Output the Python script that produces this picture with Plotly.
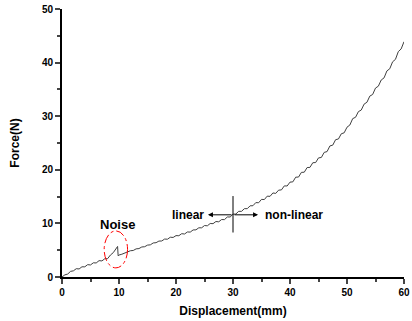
import plotly.graph_objects as go

disp = [0, 0.5, 1, 1.5, 2, 2.5, 3, 3.5, 4, 4.5, 5, 5.5, 6, 6.5, 7, 7.5, 8,
        8.5, 9, 9.5, 9.75, 9.85, 10, 10.5, 11, 11.5, 12, 12.5, 13, 13.5, 14, 14.5,
        15, 15.5, 16, 16.5, 17, 17.5, 18, 18.5, 19, 19.5, 20, 20.5, 21, 21.5,
        22, 22.5, 23, 23.5, 24, 24.5, 25, 25.5, 26, 26.5, 27, 27.5, 28, 28.5,
        29, 29.5, 30, 30.5, 31, 31.5, 32, 32.5, 33, 33.5, 34, 34.5, 35, 35.5,
        36, 36.5, 37, 37.5, 38, 38.5, 39, 39.5, 40, 40.5, 41, 41.5, 42, 42.5,
        43, 43.5, 44, 44.5, 45, 45.5, 46, 46.5, 47, 47.5, 48, 48.5, 49, 49.5,
        50, 50.5, 51, 51.5, 52, 52.5, 53, 53.5, 54, 54.5, 55, 55.5, 56, 56.5,
        57, 57.5, 58, 58.5, 59, 59.5, 60]
force = [0.00, 0.40, 0.55, 1.05, 1.15, 1.55, 1.50, 1.90, 1.90, 2.30, 2.25, 2.65, 2.62, 3.05, 3.00, 3.40, 3.42,
         4.10, 4.55, 5.25, 5.70, 3.95, 4.10, 4.25, 4.50, 4.60, 4.90, 4.95, 5.25, 5.30, 5.60, 5.65,
         5.95, 6.00, 6.35, 6.40, 6.70, 6.72, 7.08, 7.05, 7.42, 7.38, 7.72, 7.70, 8.08, 8.02,
         8.40, 8.38, 8.78, 8.80, 9.18, 9.18, 9.60, 9.55, 9.98, 9.95, 10.35, 10.30, 10.72, 10.70,
         11.20, 11.20, 11.72, 11.75, 12.25, 12.25, 12.75, 12.75, 13.28, 13.30, 13.88, 13.85, 14.48, 14.45,
         15.08, 15.05, 15.68, 15.60, 16.20, 16.25, 17.00, 16.98, 17.70, 17.75, 18.62, 18.65, 19.52, 19.55,
         20.42, 20.45, 21.32, 21.35, 22.22, 22.30, 23.25, 23.40, 24.45, 24.60, 25.62, 25.75, 26.72, 26.90,
         27.95, 28.35, 29.55, 29.80, 30.85, 31.15, 32.25, 32.60, 33.75, 34.05, 35.25, 35.60, 36.75, 37.15,
         38.45, 38.85, 40.15, 40.60, 42.05, 42.55, 43.90]

x_ticks = [0, 10, 20, 30, 40, 50, 60]
y_ticks = [0, 10, 20, 30, 40, 50]

noise_box = dict(x0=7.4, x1=11.5, y0=1.7, y1=8.6)
split_x = 30
split_y = 11.6

bold = dict(family="Liberation Sans, Arial, sans-serif", color="black", weight="bold")

fig = go.Figure()
fig.add_trace(go.Scatter(x=disp, y=force, mode="lines",
                         line=dict(color="#404040", width=1), showlegend=False))

fig.add_shape(type="circle", xref="x", yref="y", **noise_box,
              line=dict(color="red", width=1, dash="dashdot"))
fig.add_shape(type="line", xref="x", yref="y", x0=split_x, x1=split_x, y0=8.3, y1=15.1,
              line=dict(color="black", width=1))

# arrows
fig.add_annotation(x=25.6, y=split_y, ax=split_x, ay=split_y, xref="x", yref="y",
                   axref="x", ayref="y", text="", showarrow=True, arrowhead=2,
                   arrowsize=1, arrowwidth=1, arrowcolor="black")
fig.add_annotation(x=34.4, y=split_y, ax=split_x, ay=split_y, xref="x", yref="y",
                   axref="x", ayref="y", text="", showarrow=True, arrowhead=2,
                   arrowsize=1, arrowwidth=1, arrowcolor="black")

fig.add_annotation(x=25.3, y=split_y, xref="x", yref="y", text="linear", showarrow=False,
                   xanchor="right", font=dict(size=12, **bold))
fig.add_annotation(x=35.3, y=split_y, xref="x", yref="y", text="non-linear", showarrow=False,
                   xanchor="left", font=dict(size=12, **bold))
fig.add_annotation(x=9.65, y=9.8, xref="x", yref="y", text="Noise", showarrow=False,
                   font=dict(size=13, **bold))

fig.update_layout(
    width=412, height=321,
    margin=dict(l=62, r=8, t=9, b=44),
    paper_bgcolor="white", plot_bgcolor="white",
    font=dict(size=10, **bold),
)
fig.update_xaxes(range=[0, 60], tickvals=x_ticks, ticks="outside", ticklen=5, tickwidth=1.5,
                 showline=True, linecolor="black", linewidth=2, showgrid=False, zeroline=False,
                 automargin=False, tickfont=dict(size=10, **bold),
                 minor=dict(tickvals=[5, 15, 25, 35, 45, 55], ticks="outside", ticklen=3, tickwidth=1.5, showgrid=False),
                 title=dict(text="Displacement(mm)", font=dict(size=12, **bold), standoff=10))
fig.update_yaxes(range=[0, 50], tickvals=y_ticks, ticks="outside", ticklen=5, tickwidth=1.5,
                 showline=True, linecolor="black", linewidth=2, showgrid=False, zeroline=False,
                 automargin=False, tickfont=dict(size=10, **bold),
                 minor=dict(tickvals=[5, 15, 25, 35, 45], ticks="outside", ticklen=3, tickwidth=1.5, showgrid=False),
                 title=dict(text="Force(N)", font=dict(size=12, **bold), standoff=20))

fig.write_html("out.html")
